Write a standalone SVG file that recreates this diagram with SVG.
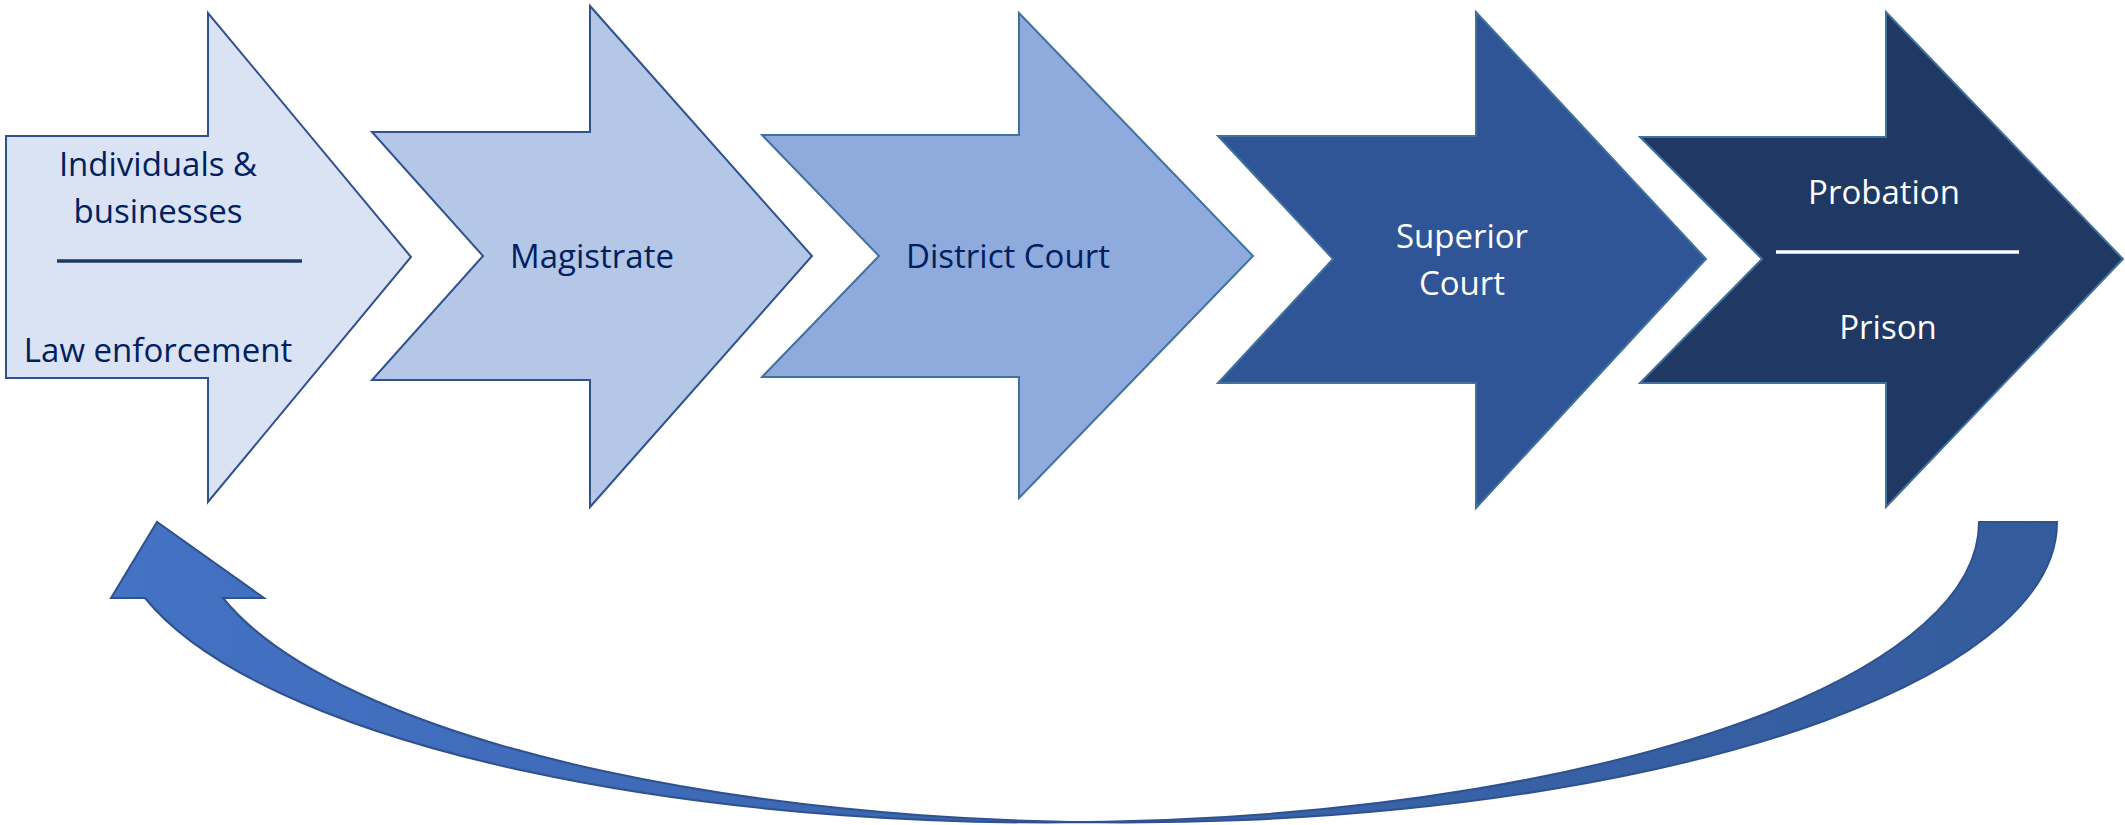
<svg xmlns="http://www.w3.org/2000/svg" width="2125" height="825" viewBox="0 0 2125 825">
  <style>
    .stage { stroke-width: 2; stroke-linejoin: miter; }
    .s1 { fill: #DAE3F3; stroke: #2F528F; }
    .s2 { fill: #B4C7E7; stroke: #2F528F; }
    .s3 { fill: #8FAADC; stroke: #41719C; }
    .s4 { fill: #2F5597; stroke: #41719C; }
    .s5 { fill: #203864; stroke: #41719C; }
    .lbl { font-family: "Open Sans", "Noto Sans", "Liberation Sans", sans-serif; font-size: 33px; text-anchor: middle; }
    .dark { fill: #002060; }
    .light { fill: #FFFFFF; }
    .return { fill: url(#returnFill); stroke: #2F528F; stroke-width: 2; stroke-linejoin: miter; }
  </style>
  <defs>
    <linearGradient id="returnFill" gradientUnits="userSpaceOnUse" x1="110" y1="0" x2="2060" y2="0">
      <stop offset="0" stop-color="#4472C4"/>
      <stop offset="0.5" stop-color="#3A64AE"/>
      <stop offset="1" stop-color="#345C9C"/>
    </linearGradient>
  </defs>

  <rect width="2125" height="825" fill="#FFFFFF"/>

  <!-- stage 1: plain-tailed arrow -->
  <g id="individuals-law-enforcement">
    <path class="stage s1" d="M6,136 L208,136 L208,13 L411,257 L208,502 L208,378 L6,378 Z"/>
    <text class="lbl dark" x="158" y="176">Individuals &amp;</text>
    <text class="lbl dark" x="158" y="223">businesses</text>
    <line x1="57" y1="261" x2="302" y2="261" stroke="#203864" stroke-width="3.5"/>
    <text class="lbl dark" x="158" y="362">Law enforcement</text>
  </g>

  <!-- stage 2 -->
  <g id="magistrate">
    <path class="stage s2" d="M372,132 L590,132 L590,6 L812,256 L590,507 L590,380 L372,380 L483,256 Z"/>
    <text class="lbl dark" x="592" y="268">Magistrate</text>
  </g>

  <!-- stage 3 -->
  <g id="district-court">
    <path class="stage s3" d="M762,135 L1019,135 L1019,13 L1253,256 L1019,498 L1019,377 L762,377 L879,256 Z"/>
    <text class="lbl dark" x="1008" y="268">District Court</text>
  </g>

  <!-- stage 4 -->
  <g id="superior-court">
    <path class="stage s4" d="M1218,136 L1476,136 L1476,12 L1706,259 L1476,508 L1476,383 L1218,383 L1333,259 Z"/>
    <text class="lbl light" x="1462" y="248">Superior</text>
    <text class="lbl light" x="1462" y="295">Court</text>
  </g>

  <!-- stage 5 -->
  <g id="probation-prison">
    <path class="stage s5" d="M1640,137 L1886,137 L1886,12 L2123,259 L1886,507 L1886,383 L1640,383 L1762,259 Z"/>
    <text class="lbl light" x="1884" y="204">Probation</text>
    <line x1="1776" y1="252" x2="2019" y2="252" stroke="#FFFFFF" stroke-width="3.5"/>
    <text class="lbl light" x="1888" y="339">Prison</text>
  </g>

  <!-- return loop: curved arrow back to the first stage -->
  <g id="connectors">
    <path class="return" d="M2057,522 A932,300 0 0 1 223,598 L264,598 L157,522 L111,598 L145,598 A932,300 0 0 0 1979,522 Z"/>
  </g>
</svg>
